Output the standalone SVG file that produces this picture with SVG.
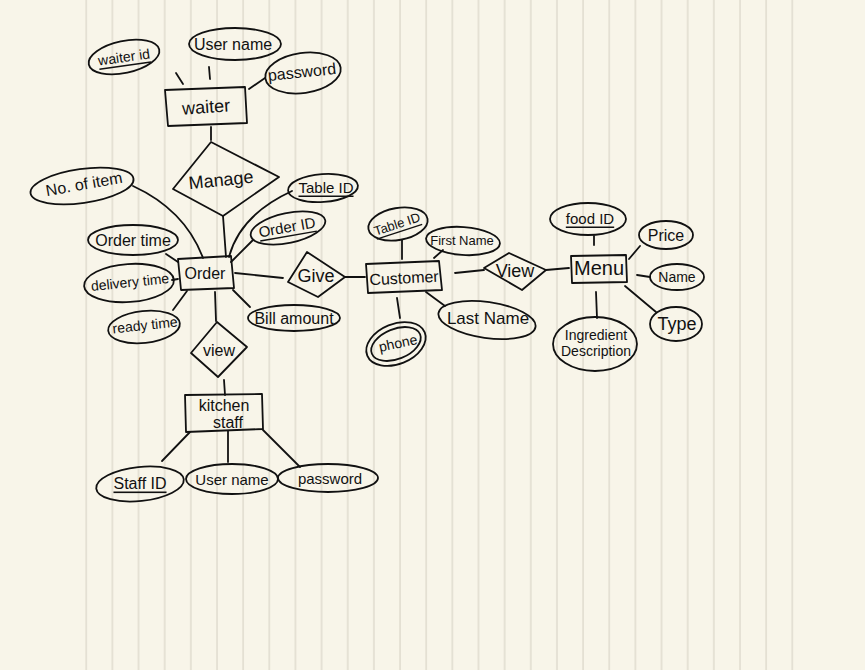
<svg xmlns="http://www.w3.org/2000/svg" width="865" height="670" viewBox="0 0 865 670">
<style>
.bg{fill:#f8f5e9}
.rule{stroke:#dedacd;stroke-width:1.4}
.sh{fill:none;stroke:#111;stroke-width:1.8;stroke-linejoin:round}
.cn line,.cn path{fill:none;stroke:#111;stroke-width:1.8;stroke-linecap:round}
text{font-family:"Liberation Sans","DejaVu Sans",sans-serif;fill:#111;text-anchor:middle;dominant-baseline:central}
.u{text-decoration:underline}
.s13{font-size:13px}.s14{font-size:14px}.s15{font-size:15px}.s16{font-size:16px}.s17{font-size:17px}.s18{font-size:18px}.s20{font-size:20px}
</style>
<defs>
<pattern id="lines" x="0" y="0" width="26.15" height="670" patternUnits="userSpaceOnUse">
<line x1="7.8" y1="0" x2="7.8" y2="670" class="rule"/>
</pattern>
</defs>
<rect class="bg" x="0" y="0" width="865" height="670"/>
<rect x="78" y="0" width="720" height="670" fill="url(#lines)"/>

<g class="cn" id="connectors">
<line x1="176" y1="73" x2="183" y2="84"/>
<line x1="209" y1="67" x2="210" y2="79"/>
<line x1="249" y1="89" x2="265" y2="78"/>
<line x1="211" y1="127" x2="211" y2="140"/>
<line x1="223" y1="216" x2="226" y2="257"/>
<path d="M133 186 Q185 210 203 258"/>
<path d="M229 257 Q240 215 292 191"/>
<line x1="231" y1="262" x2="253" y2="240"/>
<line x1="166" y1="254" x2="178" y2="262"/>
<line x1="172" y1="280" x2="178" y2="279"/>
<line x1="173" y1="310" x2="187" y2="291"/>
<line x1="233" y1="290" x2="250" y2="307"/>
<line x1="235" y1="273" x2="283" y2="278"/>
<line x1="345" y1="277" x2="365" y2="277"/>
<line x1="402" y1="240" x2="402" y2="259"/>
<line x1="434" y1="258" x2="443" y2="250"/>
<line x1="426" y1="292" x2="445" y2="306"/>
<line x1="397" y1="298" x2="400" y2="318"/>
<line x1="455" y1="273" x2="484" y2="270"/>
<line x1="546" y1="270" x2="569" y2="268"/>
<line x1="594" y1="236" x2="594" y2="245"/>
<line x1="629" y1="259" x2="640" y2="246"/>
<line x1="637" y1="275" x2="650" y2="277"/>
<line x1="625" y1="286" x2="656" y2="312"/>
<line x1="596" y1="292" x2="597" y2="318"/>
<line x1="215" y1="292" x2="216" y2="321"/>
<line x1="224" y1="380" x2="225" y2="395"/>
<line x1="190" y1="432" x2="162" y2="461"/>
<line x1="228" y1="431" x2="228" y2="462"/>
<line x1="263" y1="430" x2="300" y2="467"/>
</g>

<g id="waiter"><path class="sh" d="M165 90 L245 87 L247 123 L168 126 Z"/><text class="s18" x="206" y="107" transform="rotate(-4 206 107)">waiter</text></g>
<g id="waiter-id"><ellipse class="sh" cx="124" cy="57" rx="36" ry="16" transform="rotate(-12 124 57)"/><text class="s14 u" x="124" y="57" transform="rotate(-8 124 57)">waiter id</text></g>
<g id="waiter-username"><ellipse class="sh" cx="235" cy="44" rx="46" ry="16"/><text class="s16" x="233" y="44">User name</text></g>
<g id="waiter-password"><ellipse class="sh" cx="303" cy="73" rx="38" ry="20" transform="rotate(-8 303 73)"/><text class="s16" x="302" y="72" transform="rotate(-6 302 72)">password</text></g>

<g id="manage"><polygon class="sh" points="211,142 279,177 223,216 173,189"/><text class="s18" x="221" y="180" transform="rotate(-6 221 180)">Manage</text></g>

<g id="no-of-item"><ellipse class="sh" cx="82" cy="186" rx="52" ry="17" transform="rotate(-8 82 186)"/><text class="s16" x="84" y="184" transform="rotate(-10 84 184)">No. of item</text></g>
<g id="order-table-id"><ellipse class="sh" cx="323" cy="188" rx="35" ry="14" transform="rotate(-4 323 188)"/><text class="s15 u" x="326" y="187">Table ID</text></g>
<g id="order-id"><ellipse class="sh" cx="288" cy="228" rx="38" ry="15" transform="rotate(-12 288 228)"/><text class="s15 u" x="287" y="227" transform="rotate(-10 287 227)">Order ID</text></g>

<g id="order"><path class="sh" d="M178 259 L231 256 L234 288 L181 290 Z"/><text class="s16" x="205" y="273">Order</text></g>
<g id="order-time"><ellipse class="sh" cx="133" cy="240" rx="45" ry="15"/><text class="s16" x="133" y="240">Order time</text></g>
<g id="delivery-time"><ellipse class="sh" cx="129" cy="283" rx="45" ry="19" transform="rotate(-4 129 283)"/><text class="s14" x="130" y="282" transform="rotate(-6 130 282)">delivery time</text></g>
<g id="ready-time"><ellipse class="sh" cx="144" cy="327" rx="36" ry="16" transform="rotate(-6 144 327)"/><text class="s14" x="145" y="325" transform="rotate(-6 145 325)">ready time</text></g>
<g id="bill-amount"><ellipse class="sh" cx="294" cy="318" rx="46" ry="13"/><text class="s16" x="294" y="318">Bill amount</text></g>

<g id="give"><polygon class="sh" points="307,252 345,277 318,297 288,282"/><text class="s18" x="316" y="276">Give</text></g>

<g id="customer"><path class="sh" d="M366 264 L439 261 L442 290 L368 293 Z"/><text class="s16" x="404" y="278" transform="rotate(-3 404 278)">Customer</text></g>
<g id="customer-table-id"><ellipse class="sh" cx="398" cy="224" rx="30" ry="16" transform="rotate(-10 398 224)"/><text class="s13 u" x="397" y="224" transform="rotate(-18 397 224)">Table ID</text></g>
<g id="first-name"><ellipse class="sh" cx="463" cy="241" rx="37" ry="14" transform="rotate(4 463 241)"/><text class="s13" x="462" y="240">First Name</text></g>
<g id="last-name"><ellipse class="sh" cx="487" cy="320" rx="49" ry="18" transform="rotate(8 487 320)"/><text class="s17" x="488" y="318">Last Name</text></g>
<g id="phone"><ellipse class="sh" cx="396" cy="344" rx="31" ry="20" transform="rotate(-22 396 344)"/><ellipse class="sh" cx="396" cy="344" rx="26" ry="15" transform="rotate(-22 396 344)"/><text class="s14" x="398" y="343" transform="rotate(-12 398 343)">phone</text></g>

<g id="view-menu"><polygon class="sh" points="484,268 509,253 546,270 522,290"/><text class="s18" x="515" y="271">View</text></g>

<g id="menu"><path class="sh" d="M571 256 L626 255 L627 282 L572 283 Z"/><text class="s20" x="599" y="268">Menu</text></g>
<g id="food-id"><ellipse class="sh" cx="588" cy="219" rx="38" ry="16"/><text class="s15 u" x="590" y="218">food ID</text></g>
<g id="price"><ellipse class="sh" cx="666" cy="235" rx="27" ry="14"/><text class="s16" x="666" y="235">Price</text></g>
<g id="menu-name"><ellipse class="sh" cx="677" cy="277" rx="27" ry="13"/><text class="s14" x="677" y="277">Name</text></g>
<g id="type"><ellipse class="sh" cx="676" cy="324" rx="26" ry="17"/><text class="s18" x="677" y="324">Type</text></g>
<g id="ingredient"><ellipse class="sh" cx="595" cy="344" rx="42" ry="27"/><text class="s14" x="596" y="335">Ingredient</text><text class="s14" x="596" y="351">Description</text></g>

<g id="view-kitchen"><polygon class="sh" points="191,353 217,322 247,347 218,377"/><text class="s16" x="219" y="350">view</text></g>

<g id="kitchen-staff"><path class="sh" d="M185 395 L262 394 L263 429 L186 432 Z"/><text class="s16" x="224" y="405">kitchen</text><text class="s16" x="228" y="422">staff</text></g>
<g id="staff-id"><ellipse class="sh" cx="140" cy="484" rx="44" ry="17" transform="rotate(-6 140 484)"/><text class="s16 u" x="140" y="483">Staff ID</text></g>
<g id="kitchen-username"><ellipse class="sh" cx="232" cy="479" rx="46" ry="15"/><text class="s15" x="232" y="479">User name</text></g>
<g id="kitchen-password"><ellipse class="sh" cx="328" cy="478" rx="50" ry="14"/><text class="s15" x="330" y="478">password</text></g>
</svg>
